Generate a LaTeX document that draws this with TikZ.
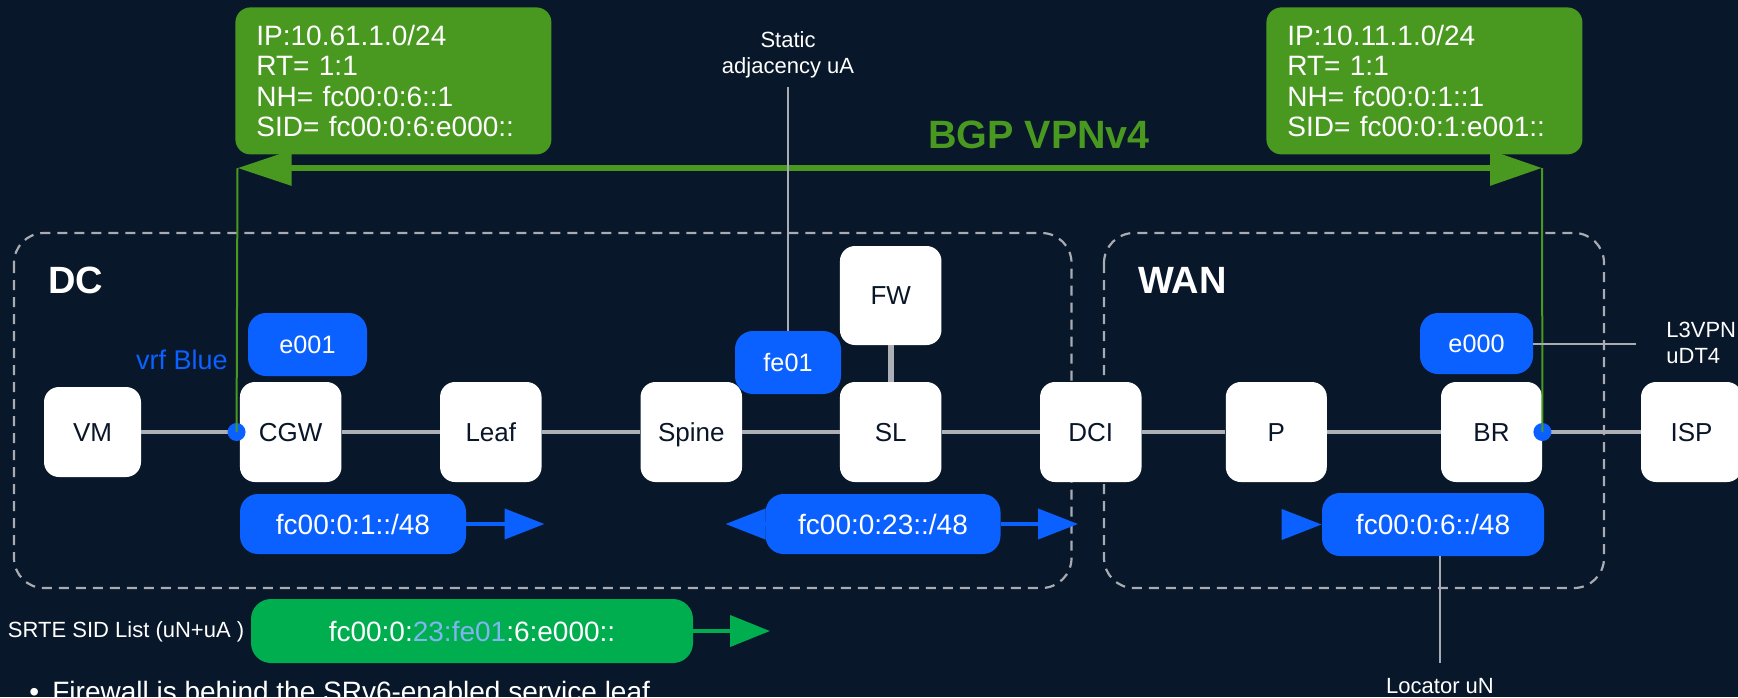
\documentclass[tikz,border=0pt]{standalone}
\usepackage{fontspec}
\setmainfont{Liberation Sans}
\usetikzlibrary{arrows.meta}

\definecolor{bgnavy}{RGB}{8,23,41}
\definecolor{ink}{RGB}{10,22,40}
\definecolor{linkgrey}{RGB}{172,176,182}
\definecolor{zonegrey}{RGB}{168,172,178}
\definecolor{sidblue}{RGB}{11,97,255}
\definecolor{bgpgreen}{RGB}{73,153,33}
\definecolor{srgreen}{RGB}{0,173,79}
\definecolor{paleblue}{RGB}{125,182,240}

\newcommand\fsz[2]{\fontsize{#1}{#2}\selectfont}

\tikzset{
  device/.style={rectangle, rounded corners=7.5pt, fill=white, text=ink,
    font=\fsz{13}{15}, text height=12pt, text depth=2.7pt,
    minimum width=50.75pt, minimum height=50pt, inner sep=0pt},
  pill/.style={rectangle, rounded corners=9pt, fill=sidblue, text=white,
    inner sep=0pt, minimum height=30pt, font=\fsz{14}{16},
    text height=12.5pt, text depth=2.5pt},
  fnpill/.style={pill, font=\fsz{12.6}{15}, minimum height=31.5pt,
    text height=11.5pt, text depth=2.5pt},
  route/.style={rectangle, rounded corners=7.5pt, fill=bgpgreen, text=white,
    font=\fsz{14}{15.25}, align=left, inner xsep=10.5pt, inner ysep=0pt,
    anchor=north west, text width=137pt, minimum height=73.5pt},
  link/.style={draw=linkgrey, line width=2pt},
  callout/.style={draw=zonegrey, line width=1pt},
  zone/.style={draw=zonegrey, line width=1.1pt, dash pattern=on 5pt off 3.5pt,
    rounded corners=15pt},
  bluehead/.style={-{Triangle[length=20pt,width=15pt]}, draw=sidblue, line width=2pt},
  greenhead/.style={-{Triangle[length=20pt,width=15.5pt]}, draw=srgreen, line width=2pt},
  vline/.style={draw=bgpgreen, line width=1pt},
  dot/.style={circle, fill=sidblue, minimum size=9pt, inner sep=0pt},
  lbl/.style={text=white, inner sep=0pt, font=\fsz{11}{12.8}},
  zonelbl/.style={text=white, inner sep=0pt, font=\fsz{19}{22}\bfseries, anchor=base west},
}

\begin{document}
\begin{tikzpicture}[x=0.5pt,y=-0.5pt]
  % canvas
  \useasboundingbox (0,0) rectangle (1738,697);
  \fill[bgnavy] (0,0) rectangle (1738,697);

  % domains
  \draw[zone] (14,233) rectangle (1071.5,588);
  \draw[zone] (1104,233) rectangle (1604,588);
  \node[zonelbl] (dc) at (48,293) {DC};
  \node[zonelbl] (wan) at (1137.6,293) {WAN};

  % BGP route advertisements
  \node[route] (ribL) at (235,7) {IP:10.61.1.0/24\\RT= 1:1\\NH= fc00:0:6::1\\SID= fc00:0:6:e000::};
  \node[route] (ribR) at (1266,7) {IP:10.11.1.0/24\\RT= 1:1\\NH= fc00:0:1::1\\SID= fc00:0:1:e001::};
  \node[text=bgpgreen, inner sep=0pt, font=\fsz{19.75}{22}\bfseries, anchor=base] (bgp) at (1039,148) {BGP VPNv4};

  % devices
  \node[device, minimum width=48.5pt, minimum height=45pt] (VM) at (92.5,432) {VM};
  \node[device] (CGW) at (290.7,432) {CGW};
  \node[device] (Leaf) at (490.8,432) {Leaf};
  \node[device] (Spine) at (691.3,432) {Spine};
  \node[device] (SL) at (890.7,432) {SL};
  \node[device] (DCI) at (1090.8,432) {DCI};
  \node[device, minimum width=50.5pt] (P) at (1276.3,432) {P};
  \node[device, minimum width=50.5pt] (BR) at (1491.5,432) {BR};
  \node[device, minimum width=50.5pt] (ISP) at (1691.5,432) {ISP};
  \node[device, minimum height=49.5pt] (FW) at (890.7,295.5) {FW};

  % links
  \draw[link] (VM.east) -- (CGW.west);
  \draw[link] (CGW.east) -- (Leaf.west);
  \draw[link] (Leaf.east) -- (Spine.west);
  \draw[link] (Spine.east) -- (SL.west);
  \draw[link] (SL.east) -- (DCI.west);
  \draw[link] (DCI.east) -- (P.west);
  \draw[link] (P.east) -- (BR.west);
  \draw[link] (BR.east) -- (ISP.west);
  \draw[link, line width=3pt] (FW.south) -- (SL.north);

  % VRF attachment points and BGP session
  \node[dot] (dotL) at ([xshift=-1.5pt]CGW.west) {};
  \node[dot] (dotR) at (BR.east) {};
  \coordinate (bgpL) at (237.5,168);
  \coordinate (bgpR) at (1542,168);
  \draw[vline] (bgpL) -- (dotL.center);
  \draw[vline] (bgpR) -- (dotR.center);
  \draw[draw=bgpgreen, line width=3pt,
        {Triangle[length=27pt,width=17pt]}-{Triangle[length=26pt,width=17pt]}] (bgpL) -- (bgpR);
  \node[text=sidblue, inner sep=0pt, font=\fsz{13.5}{16}, anchor=base east] (vrf) at (228,369) {vrf Blue};

  % function SIDs
  \node[fnpill, minimum width=59.5pt] (e001) at (307.5,344.5) {e001};
  \node[fnpill, minimum width=53pt] (fe01) at (788,362.5) {fe01};
  \node[fnpill, minimum width=56.5pt, minimum height=30.5pt] (e000) at (1476.5,343.5) {e000};

  % locators
  \node[pill, minimum width=113pt] (loc1) at (353,524) {fc00:0:1::/48};
  \node[pill, minimum width=117.5pt] (loc23) at (883,524) {fc00:0:23::/48};
  \node[pill, minimum width=111pt, minimum height=31.5pt] (loc6) at (1433,524.5) {fc00:0:6::/48};
  \coordinate (t1) at (544.5,524);
  \coordinate (t23l) at (725.5,524);
  \coordinate (t23r) at (1078,524);
  \coordinate (b6) at (1283,524.5);
  \draw[bluehead] (loc1.east) -- (t1);
  \draw[bluehead] (loc23.west) -- (t23l);
  \draw[bluehead] (loc23.east) -- (t23r);
  \draw[bluehead] (b6) -- (loc6.west);

  % annotations
  \node[lbl, align=center] (stat) at (788,54.8) {Static\\adjacency uA};
  \coordinate (stTop) at (788,87);
  \draw[callout] (stTop) -- (fe01.north);

  \coordinate (l3end) at (1636,343.5);
  \draw[callout] (e000.east) -- (l3end);
  \node[lbl, align=left, anchor=west] (l3) at (1666,343) {L3VPN\\uDT4};

  \coordinate (locEnd) at (1440,663);
  \draw[callout] (loc6.south -| locEnd) -- (locEnd);
  \node[lbl, anchor=base] (locN) at (1440,693.5) {Locator uN};

  % SRTE policy
  \node[lbl, anchor=base west] (srte) at (7.6,637) {SRTE SID List (uN+uA )};
  \node[rectangle, rounded corners=10pt, fill=srgreen, text=white, inner sep=0pt,
        minimum width=221pt, minimum height=32pt, font=\fsz{14}{16},
        text height=12.5pt, text depth=2.5pt] (sid) at (472,631)
        {fc00:0:\textcolor{paleblue}{23:fe01}:6:e000::};
  \coordinate (tsr) at (770,631);
  \draw[greenhead] (sid.east) -- (tsr);

  \node[text=white, inner sep=0pt, font=\fsz{14}{16}, anchor=base west] (note) at (29,701)
        {•\hspace{6.6pt}Firewall is behind the SRv6-enabled service leaf};
\end{tikzpicture}
\end{document}
